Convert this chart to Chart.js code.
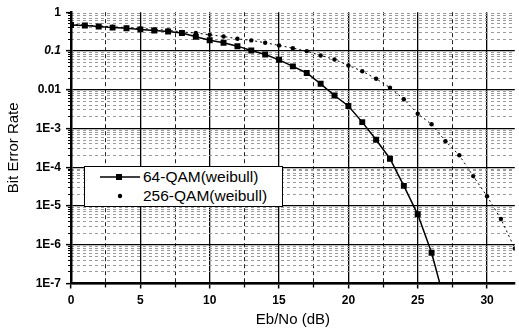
<!DOCTYPE html>
<html><head><meta charset="utf-8">
<script src="https://cdn.jsdelivr.net/npm/chart.js@4.4.0/dist/chart.umd.min.js"></script>
<style>
html,body{margin:0;padding:0;background:#fff;}
#wrap{position:relative;width:519px;height:332px;overflow:hidden;}
#c{position:absolute;left:0;top:0;}
#legend{position:absolute;left:84px;top:166px;width:197px;height:39px;border:1.5px solid #000;background:#fff;font-family:'Liberation Sans',Arial,Helvetica,sans-serif;font-size:15.5px;color:#000;}
.row{position:absolute;left:0;height:18px;width:100%;}
.sample{position:absolute;left:14.5px;top:0;width:40px;height:18px;}
.lbl{position:absolute;left:58px;top:0;line-height:18px;white-space:nowrap;}
</style></head>
<body><div id="wrap"><canvas id="c" width="519" height="332"></canvas><div id="legend"></div></div>
<script>
// ---- data ----
const seriesNames = ['64-QAM(weibull)', '256-QAM(weibull)'];
const ebno64 = [0,1,2,3,4,5,6,7,8,9,10,11,12,13,14,15,16,17,18,19,20,21,22,23,24,25,26,27];
const ber64 = [0.47,0.455,0.43,0.40,0.387,0.36,0.338,0.318,0.29,0.232,0.188,0.162,0.133,0.103,0.081,0.059,0.040,0.027,0.0142,0.0071,0.0038,0.00146,0.00051,0.000166,0.000033,0.0000061,0.00000062,0.000000029];
const ebno256 = [0,1,2,3,4,5,6,7,8,9,10,11,12,13,14,15,16,17,18,19,20,21,22,23,24,25,26,27,28,29,30,31,32];
const ber256 = [0.48,0.465,0.445,0.42,0.40,0.38,0.36,0.34,0.31,0.29,0.262,0.236,0.206,0.187,0.163,0.139,0.118,0.099,0.0766,0.0604,0.0423,0.030,0.0192,0.0113,0.0057,0.0024,0.00128,0.00047,0.000203,0.000059,0.0000178,0.0000046,0.0000008];
const xTickValues = [0,5,10,15,20,25,30];
const xTickLabels = ['0','5','10','15','20','25','30'];
const xMinorTicks = [2.5,7.5,12.5,17.5,22.5,27.5];
const yTickValues = [1e-7,1e-6,1e-5,1e-4,1e-3,1e-2,1e-1,1];
const yTickLabels = ['1E-7','1E-6','1E-5','1E-4','1E-3','0.01','0.1','1'];
const yMinorMultipliers = [2,3,4,5,6,7,8,9];
const xTitle = 'Eb/No (dB)';
const yTitle = 'Bit Error Rate';

const yMinorTicks = [];
yTickValues.slice(0,-1).forEach(d => yMinorMultipliers.forEach(m => yMinorTicks.push(+(d*m).toPrecision(3))));

Chart.defaults.font.family = "'Liberation Sans', Arial, Helvetica, sans-serif";
Chart.defaults.color = '#000';

const styles = [
  {borderWidth:1.5, borderDash:[], pointStyle:'rect', pointRadius:4.2},
  {borderWidth:1, borderDash:[2,3], pointStyle:'circle', pointRadius:2.2}
];

const datasets = [
  {label:seriesNames[0], data: ebno64.map((x,i)=>({x:x, y:ber64[i]})), ...styles[0]},
  {label:seriesNames[1], data: ebno256.map((x,i)=>({x:x, y:ber256[i]})), ...styles[1]}
].map(d => Object.assign(d, {borderColor:'#000', backgroundColor:'#000', pointBorderWidth:0, pointHoverRadius:d.pointRadius, tension:0, xAxisID:'x', yAxisID:'y'}));

new Chart(document.getElementById('c'), {
  type:'line',
  data:{datasets:datasets},
  options:{
    responsive:false, animation:false, devicePixelRatio:1, events:[],
    layout:{padding:{top:12,left:0,right:0,bottom:0}},
    plugins:{legend:{display:false}, tooltip:{enabled:false}},
    scales:{
      x:{type:'linear', position:'bottom', min:0, max:32, weight:1,
        afterBuildTicks: s => { s.ticks = xTickValues.map(v => ({value:v})); },
        afterFit: s => { s.height = 48.5; },
        ticks:{autoSkip:false, maxRotation:0, padding:5, font:{size:12, weight:'bold'}, color:'#000', callback:(v,i) => xTickLabels[i]},
        grid:{color:'#000', lineWidth:1.3, tickLength:5, tickColor:'#000', tickWidth:1.5},
        border:{color:'#000', width:2.5},
        title:{display:true, text:xTitle, font:{size:15}, color:'#000', padding:{top:0, bottom:3}}
      },
      x2:{type:'linear', position:'bottom', min:0, max:32, weight:-1,
        afterBuildTicks: s => { s.ticks = xMinorTicks.map(v => ({value:v})); },
        afterFit: s => { s.height = 0; },
        ticks:{display:false, autoSkip:false},
        grid:{color:'#222', lineWidth:1, tickLength:4, tickColor:'#000', tickWidth:1.3},
        border:{display:false, dash:[4,3]}
      },
      y:{type:'logarithmic', position:'left', min:1e-7, max:1, weight:1,
        afterBuildTicks: s => { s.ticks = yTickValues.map(v => ({value:v})); },
        afterFit: s => { s.width = 71; },
        ticks:{autoSkip:false, padding:5, color:'#000',
          font: c => ({size:12, weight:'bold', style:(c.tick && c.tick.value === 0.1) ? 'italic' : 'normal'}),
          callback:(v,i) => yTickLabels[i]},
        grid:{color: c => (c.tick && c.tick.value === 1) ? 'rgba(0,0,0,0)' : '#000', lineWidth:1.3, tickLength:5, tickColor:'#000', tickWidth:1.5},
        border:{color:'#000', width:2.5},
        title:{display:true, text:yTitle, font:{size:15}, color:'#000', padding:{top:5, bottom:0}}
      },
      y2:{type:'logarithmic', position:'left', min:1e-7, max:1, weight:-1,
        afterBuildTicks: s => { s.ticks = yMinorTicks.map(v => ({value:v})); },
        afterFit: s => { s.width = 0; },
        ticks:{display:false, autoSkip:false},
        grid:{color:'#9a9a9a', lineWidth:1, tickLength:3, tickColor:'#000', tickWidth:1},
        border:{display:false, dash:[3,3]}
      }
    }
  }
});

// ---- HTML legend built from the datasets ----
const legend = document.getElementById('legend');
const NS = 'http://www.w3.org/2000/svg';
datasets.forEach((d, i) => {
  const row = document.createElement('div');
  row.className = 'row';
  row.style.top = (i === 0 ? 0.5 : 20) + 'px';
  const svg = document.createElementNS(NS, 'svg');
  svg.setAttribute('class', 'sample');
  svg.setAttribute('width', '40'); svg.setAttribute('height', '18');
  if (i === 0) {
    const ln = document.createElementNS(NS, 'line');
    ln.setAttribute('x1', '0'); ln.setAttribute('x2', '40'); ln.setAttribute('y1', '9'); ln.setAttribute('y2', '9');
    ln.setAttribute('stroke', '#000'); ln.setAttribute('stroke-width', d.borderWidth);
    svg.appendChild(ln);
    const r = document.createElementNS(NS, 'rect');
    r.setAttribute('x', '16'); r.setAttribute('y', '6'); r.setAttribute('width', '6'); r.setAttribute('height', '6');
    r.setAttribute('fill', '#000');
    svg.appendChild(r);
  } else {
    const c = document.createElementNS(NS, 'circle');
    c.setAttribute('cx', '20'); c.setAttribute('cy', '9'); c.setAttribute('r', '2.2');
    c.setAttribute('fill', '#000');
    svg.appendChild(c);
  }
  row.appendChild(svg);
  const lbl = document.createElement('span');
  lbl.className = 'lbl';
  lbl.textContent = d.label;
  row.appendChild(lbl);
  legend.appendChild(row);
});
</script>
</body></html>
